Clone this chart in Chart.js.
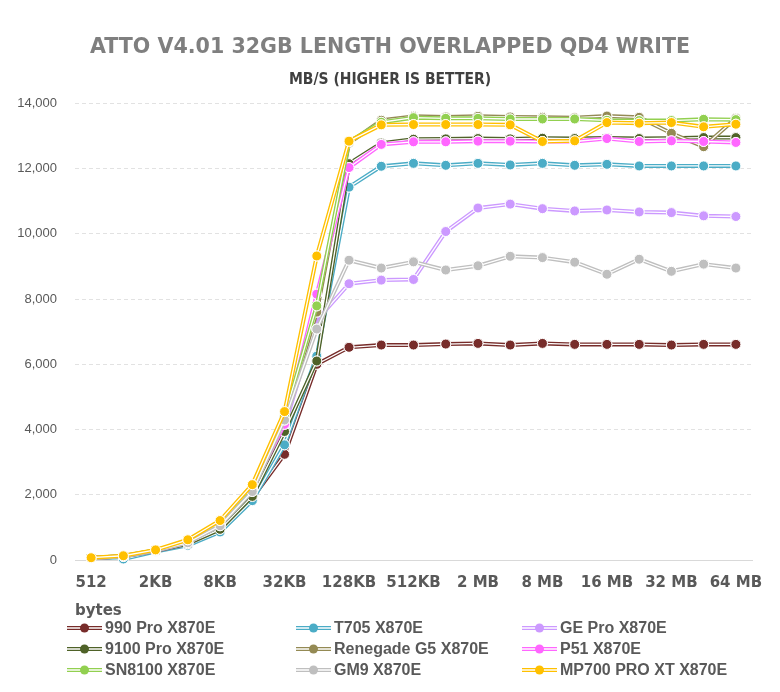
<!DOCTYPE html>
<html>
<head>
<meta charset="utf-8">
<title>ATTO QD4 Write</title>
<script src="https://cdn.jsdelivr.net/npm/chart.js@4.4.0/dist/chart.umd.min.js"></script>
<style>
  html, body { margin: 0; padding: 0; background: #fff; }
  #wrap { position: relative; width: 780px; height: 692px; }
  #chartBox { position: absolute; left: 0; top: 0; width: 780px; height: 692px; }
  .item {
    position: absolute;
    display: flex;
    align-items: center;
    height: 20px;
    font: bold 16px "Liberation Sans", Arial, sans-serif;
    color: #595959;
    white-space: nowrap;
  }
  .item canvas { margin-right: 3px; }
</style>
</head>
<body>
<div id="wrap">
  <div id="chartBox"><canvas id="attoChart"></canvas></div>
  <div id="legend"></div>
</div>
<script>
// transfer sizes (x axis)
const sizes = ["512", "1KB", "2KB", "4KB", "8KB", "16KB", "32KB", "64KB", "128KB", "256KB", "512KB",
  "1 MB", "2 MB", "4 MB", "8 MB", "12 MB", "16 MB", "24 MB", "32 MB", "48 MB", "64 MB"];

const driveNames = ["990 Pro X870E", "T705 X870E", "GE Pro X870E", "9100 Pro X870E", "Renegade G5 X870E",
  "P51 X870E", "SN8100 X870E", "GM9 X870E", "MP700 PRO XT X870E"];

// MB/s values
const pro990 = [60, 110, 280, 520, 900, 1900, 3240, 6000, 6520, 6590, 6590, 6620, 6640, 6590, 6640, 6610, 6610, 6610, 6590, 6610, 6610];
const t705 = [55, 30, 260, 450, 860, 1820, 3530, 6250, 11430, 12070, 12160, 12100, 12160, 12110, 12160, 12100, 12130, 12080, 12080, 12080, 12080];
const gePro = [60, 115, 285, 500, 1000, 2150, 4100, 7350, 8470, 8580, 8600, 10070, 10790, 10910, 10770, 10700, 10730, 10670, 10650, 10550, 10530];
const pro9100 = [60, 110, 280, 500, 940, 1950, 3940, 6100, 12150, 12780, 12900, 12910, 12920, 12910, 12930, 12920, 12940, 12920, 12930, 12950, 12950];
const renegadeG5 = [65, 120, 295, 560, 1100, 2200, 4300, 7600, 12780, 13480, 13600, 13580, 13600, 13580, 13570, 13560, 13610, 13570, 13080, 12670, 13540];
const p51 = [60, 115, 290, 540, 1080, 2200, 4160, 8150, 12030, 12740, 12820, 12820, 12840, 12840, 12830, 12830, 12920, 12830, 12850, 12830, 12800];
const sn8100 = [65, 125, 300, 580, 1150, 2250, 4400, 7790, 12820, 13420, 13560, 13540, 13540, 13520, 13520, 13520, 13480, 13470, 13470, 13510, 13500];
const gm9 = [60, 115, 290, 530, 1050, 2100, 4290, 7080, 9190, 8950, 9140, 8890, 9020, 9310, 9270, 9130, 8760, 9220, 8850, 9070, 8950];
const mp700 = [70, 130, 310, 620, 1210, 2310, 4550, 9320, 12840, 13340, 13350, 13350, 13350, 13340, 12830, 12850, 13410, 13390, 13410, 13280, 13360];

const yMax = 14000;
const yStep = 2000;

const seriesData = [pro990, t705, gePro, pro9100, renegadeG5, p51, sn8100, gm9, mp700];
const colors = ["#772C2A", "#4BACC6", "#CC99FF", "#4F6228", "#948A54", "#FF66FF", "#92D050", "#BFBFBF", "#FFC000"];

// white core line on top of each series -> "double" line look, then markers again
const doubleLine = {
  id: "doubleLine",
  afterDatasetDraw(chart, args) {
    const ctx = chart.ctx;
    const pts = args.meta.data;
    ctx.save();
    ctx.beginPath();
    pts.forEach((p, i) => (i === 0 ? ctx.moveTo(p.x, p.y) : ctx.lineTo(p.x, p.y)));
    ctx.lineWidth = 1.3;
    ctx.strokeStyle = "#fff";
    ctx.lineJoin = "round";
    ctx.stroke();
    ctx.restore();
    pts.forEach((p) => p.draw(ctx, chart.chartArea));
  },
};

const datasets = seriesData.map((vals, i) => ({
  label: driveNames[i],
  data: vals,
  borderColor: colors[i],
  backgroundColor: colors[i],
  borderWidth: 4,
  borderJoinStyle: "round",
  pointRadius: 5,
  pointBorderWidth: 1,
  pointBorderColor: "#fff",
  pointBackgroundColor: colors[i],
  tension: 0,
  order: seriesData.length - i,
}));

const ctx = document.getElementById("attoChart").getContext("2d");
const attoChart = new Chart(ctx, {
  type: "line",
  data: { labels: sizes, datasets: datasets },
  plugins: [doubleLine],
  options: {
    responsive: true,
    maintainAspectRatio: false,
    animation: false,
    events: [],
    layout: { padding: { left: 14, right: 14, top: 0, bottom: 72 } },
    plugins: {
      legend: { display: false },
      tooltip: { enabled: false },
      title: {
        display: true,
        text: "ATTO V4.01 32GB LENGTH OVERLAPPED QD4 WRITE",
        color: "#7f7f7f",
        font: { family: "DejaVu Sans", weight: "bold", size: 20.6 },
        padding: { top: 35, bottom: 8 },
      },
      subtitle: {
        display: true,
        text: "MB/S (HIGHER IS BETTER)",
        color: "#404040",
        font: { family: "'Liberation Sans Narrow', 'DejaVu Sans Condensed', sans-serif", weight: "bold", size: 15.5 },
        padding: { top: 3, bottom: 14 },
      },
    },
    scales: {
      x: {
        offset: true,
        grid: { display: false, drawTicks: false },
        border: { display: true, color: "#d9d9d9", width: 1 },
        ticks: {
          autoSkip: false,
          maxRotation: 0,
          minRotation: 0,
          padding: 14,
          color: "#595959",
          font: { family: "DejaVu Sans", weight: "bold", size: 15 },
          callback: (v, i) => (i % 2 === 0 ? sizes[i] : ""),
        },
        title: {
          display: true,
          text: "bytes",
          align: "start",
          color: "#595959",
          font: { family: "DejaVu Sans", weight: "bold", size: 15 },
          padding: { top: -4, bottom: 0 },
        },
      },
      y: {
        min: 0,
        max: yMax,
        afterFit: (s) => { s.width = 61; },
        grid: {
          drawTicks: false,
          color: (c) => (c.tick && c.tick.value === 0 ? "rgba(0,0,0,0)" : "#e2e2e2"),
        },
        border: { display: false, dash: [4, 3] },
        ticks: {
          stepSize: yStep,
          padding: 18,
          color: "#595959",
          font: { family: "'Liberation Sans', Arial, sans-serif", size: 13 },
          callback: (v) => v.toLocaleString("en-US"),
        },
      },
      // empty right-hand axis, only keeps the plot area off the right edge
      yRight: {
        position: "right",
        min: 0,
        max: yMax,
        afterFit: (s) => { s.width = 14; },
        grid: { display: false, drawTicks: false },
        border: { display: false },
        ticks: { display: false },
      },
    },
  },
});

// legend below the chart, 3 columns like the original
const legendBox = document.getElementById("legend");
const colX = [67, 296, 522];
const rowY = [618, 639, 660];
attoChart.data.datasets.forEach((ds, i) => {
  const item = document.createElement("div");
  item.className = "item";
  item.style.left = colX[i % 3] + "px";
  item.style.top = rowY[Math.floor(i / 3)] + "px";
  const sw = document.createElement("canvas");
  sw.width = 35;
  sw.height = 12;
  const g = sw.getContext("2d");
  g.strokeStyle = ds.borderColor;
  g.lineWidth = 4;
  g.beginPath(); g.moveTo(0, 6); g.lineTo(35, 6); g.stroke();
  g.strokeStyle = "#fff";
  g.lineWidth = 1.3;
  g.beginPath(); g.moveTo(0, 6); g.lineTo(35, 6); g.stroke();
  g.fillStyle = ds.borderColor;
  g.beginPath(); g.arc(17.5, 6, 4.5, 0, Math.PI * 2); g.fill();
  item.appendChild(sw);
  const txt = document.createElement("span");
  txt.textContent = ds.label;
  item.appendChild(txt);
  legendBox.appendChild(item);
});
</script>
</body>
</html>
